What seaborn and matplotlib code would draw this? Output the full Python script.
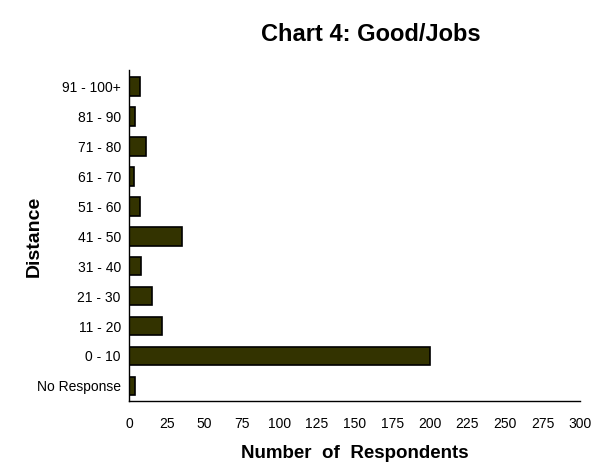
import seaborn as sns
import matplotlib.pyplot as plt
import pandas as pd

# distance bands, top to bottom as in the chart
distance = ['91 - 100+', '81 - 90', '71 - 80', '61 - 70', '51 - 60', '41 - 50',
            '31 - 40', '21 - 30', '11 - 20', '0 - 10', 'No Response']
respondents = [7, 4, 11, 3, 7, 35, 8, 15, 22, 200, 4]
x_ticks = list(range(0, 301, 25))

df = pd.DataFrame({'Distance': distance, 'Respondents': respondents})

sns.set_style('white')
plt.rcParams['font.family'] = ['Liberation Sans', 'DejaVu Sans']
plt.rcParams['text.color'] = 'black'
plt.rcParams['xtick.color'] = 'black'
plt.rcParams['ytick.color'] = 'black'

fig = plt.figure(figsize=(5.98, 4.65), dpi=100)
ax = fig.add_axes([0.216, 0.138, 0.754, 0.711])
sns.barplot(data=df, x='Respondents', y='Distance', order=distance, orient='h',
            color='#333300', saturation=1, width=0.62, edgecolor='black',
            linewidth=1.2, ax=ax)

ax.set_xlim(0, 300)
ax.set_ylim(10.5, -0.55)
ax.set_xticks(x_ticks)
ax.tick_params(axis='both', length=0, labelsize=10, pad=6)
ax.tick_params(axis='x', pad=12)
for s in ['top', 'right']:
    ax.spines[s].set_visible(False)
for s in ['left', 'bottom']:
    ax.spines[s].set_color('black')
    ax.spines[s].set_linewidth(1)
ax.set_xlabel('')
ax.set_ylabel('')

fig.text(0.62, 0.925, 'Chart 4: Good/Jobs', ha='center', va='center',
         fontsize=17, fontweight='bold')
fig.text(0.593, 0.024, 'Number  of  Respondents', ha='center', va='center',
         fontsize=13.5, fontweight='bold')
fig.text(0.057, 0.492, 'Distance', ha='center', va='center', rotation=90,
         fontsize=14, fontweight='bold')

fig.savefig('out.png', dpi=100)
